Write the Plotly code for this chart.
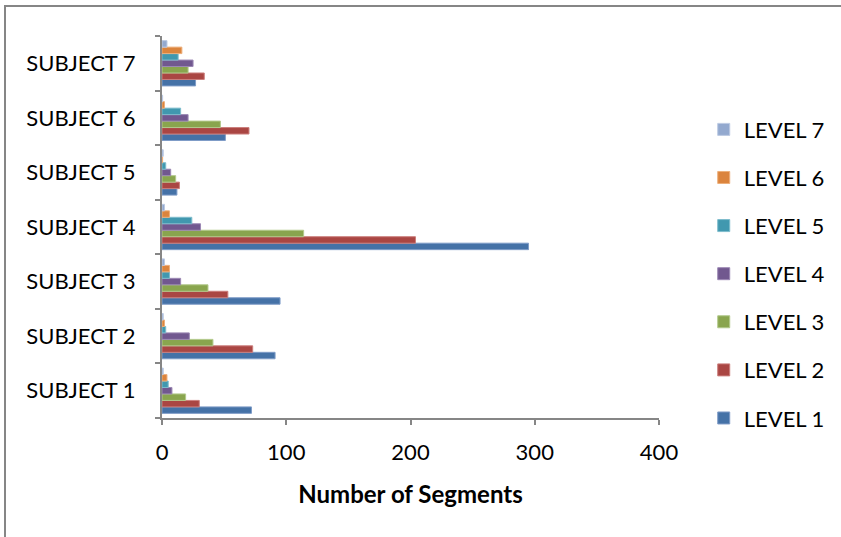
import plotly.graph_objects as go

subjects = ["SUBJECT 1", "SUBJECT 2", "SUBJECT 3", "SUBJECT 4", "SUBJECT 5", "SUBJECT 6", "SUBJECT 7"]
level_names = ["LEVEL 1", "LEVEL 2", "LEVEL 3", "LEVEL 4", "LEVEL 5", "LEVEL 6", "LEVEL 7"]

level1 = [72, 91, 95, 295, 12, 51, 27]
level2 = [30, 73, 53, 204, 14, 70, 34]
level3 = [19, 41, 37, 114, 11, 47, 21]
level4 = [8, 22, 15, 31, 7, 21, 25]
level5 = [5, 3, 6, 24, 3, 15, 13]
level6 = [4, 2, 6, 6, 0.5, 2, 16]
level7 = [1, 1, 2, 2, 1, 0.5, 4]

levels = [level1, level2, level3, level4, level5, level6, level7]
colors = ["#4572A7", "#AA4643", "#89A54E", "#71588F", "#4198AF", "#DB843D", "#93A9CF"]
line_colors = ["#7F9CC7", "#CB7E7C", "#B2C98B", "#9C88B4", "#7DBCCC", "#EDAF7B", "#BCCAE3"]

FONT = "Lato"
FS = 22

fig = go.Figure()
n = len(level_names)
for i, (name, vals, c, lc) in enumerate(zip(level_names, levels, colors, line_colors)):
    fig.add_trace(go.Bar(
        y=subjects, x=vals, name=name, orientation="h",
        marker=dict(color=c, line=dict(color=lc, width=1)),
        legendgroup=name, legendrank=n - i,
    ))

fig.update_layout(
    width=841, height=537,
    barmode="group", bargap=0.17, bargroupgap=0,
    plot_bgcolor="white", paper_bgcolor="white",
    margin=dict(l=162, r=182, t=36, b=119, autoexpand=False),
    font=dict(family=FONT, size=FS, color="black"),
    legend=dict(
        x=1.09, y=0.81, xanchor="left", yanchor="top",
        traceorder="grouped", tracegroupgap=16.5,
        font=dict(family=FONT, size=FS, color="black"),
        itemwidth=30,
    ),
    showlegend=True,
)

fig.update_xaxes(
    range=[0, 400], tickvals=[0, 100, 200, 300, 400],
    showgrid=False, zeroline=False,
    showline=True, linecolor="#868686", linewidth=2,
    ticks="outside", ticklen=5, tickcolor="#868686", tickwidth=2,
    tickfont=dict(family=FONT, size=FS),
    ticklabelstandoff=9,
    title=dict(text="<b>Number of Segments</b>", font=dict(family=FONT, size=24), standoff=22),
)
fig.update_yaxes(
    showgrid=False, zeroline=False,
    showline=True, linecolor="#868686", linewidth=2,
    ticks="outside", ticklen=5, tickcolor="#868686", tickwidth=2,
    tickson="boundaries",
    tickfont=dict(family=FONT, size=FS),
    ticklabelstandoff=20,
)

# outer chart frame
fig.add_shape(type="rect", xref="paper", yref="paper",
              x0=(5 - 162) / 497, x1=(900 - 162) / 497,
              y0=(418 - 600) / 382, y1=(418 - 6) / 382,
              line=dict(color="#868686", width=2), fillcolor="rgba(0,0,0,0)", layer="below")

fig.write_html("out.html", config={"displayModeBar": False},
               post_script="document.body.style.margin='0';")
